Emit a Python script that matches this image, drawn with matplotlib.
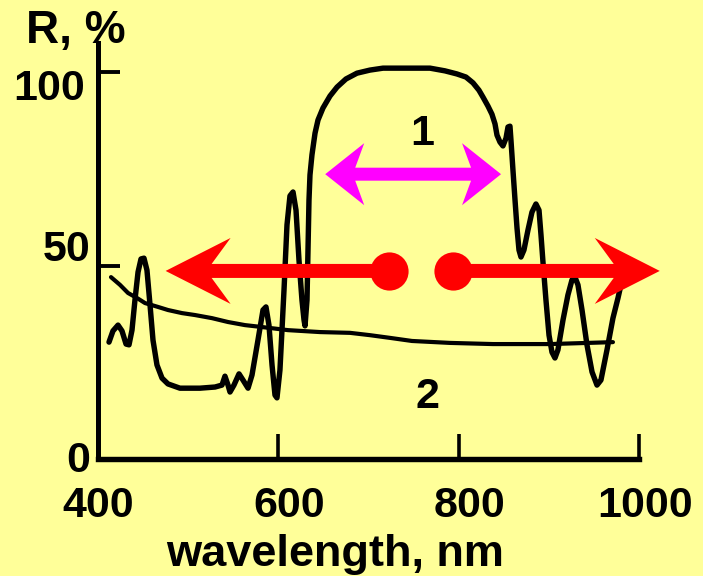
import matplotlib
matplotlib.use("Agg")
import matplotlib.pyplot as plt
from matplotlib.patches import Polygon
from matplotlib.transforms import IdentityTransform

# ---- data -------------------------------------------------------------
# curve 1: reflection spectrum with the broad high-reflectance band
curve1_nm = [412.2, 416.6, 422.2, 426.6, 431.1, 434.4, 437.7, 441.0, 444.4, 447.7,
             451.0, 454.3, 457.7, 461.0, 465.4, 471.0, 477.6, 490.9, 513.1, 529.8,
             537.5, 540.8, 544.2, 546.4, 550.8, 556.4, 560.8, 566.4, 570.8, 577.4,
             583.0, 586.3, 589.6, 593.0, 596.3, 598.5, 601.8, 606.3, 609.6, 612.9,
             616.3, 619.6, 622.9, 626.2, 628.5, 629.6, 631.8, 632.9, 634.0, 635.1,
             637.3, 640.7, 644.0, 649.5, 657.3, 665.1, 675.0, 687.2, 701.6, 716.1,
             734.9, 768.2, 784.8, 798.1, 808.1, 815.9, 822.5, 827.0, 832.5, 836.9,
             840.3, 842.5, 845.8, 849.1, 852.5, 854.7, 856.9, 858.0, 860.2, 862.5,
             864.7, 866.9, 869.1, 872.4, 876.9, 881.3, 885.7, 889.1, 891.3, 893.5,
             896.8, 900.2, 903.5, 906.8, 910.1, 915.7, 921.2, 925.7, 929.0, 932.3,
             936.8, 942.3, 947.9, 953.4, 957.8, 964.5, 971.1, 976.7, 980.0]
curve1_R = [30.2, 33.1, 34.6, 33.1, 29.7, 29.5, 33.3, 41.1, 48.3, 51.7,
            51.9, 48.8, 39.8, 30.7, 24.3, 20.9, 19.4, 18.3, 18.3, 18.6,
            19.1, 21.4, 19.1, 17.3, 19.1, 22.0, 20.4, 18.3, 21.7, 30.7,
            38.5, 39.3, 34.6, 24.3, 16.5, 15.8, 23.0, 43.7, 60.5, 68.0,
            69.0, 64.3, 51.4, 41.1, 35.9, 34.4, 41.1, 54.0, 66.9, 73.4,
            78.6, 84.2, 87.6, 90.7, 93.8, 96.1, 98.2, 99.7, 100.5, 101.0,
            101.0, 101.0, 100.3, 99.5, 98.7, 97.2, 95.3, 93.5, 91.2, 89.1,
            86.6, 83.7, 81.9, 80.9, 82.9, 85.8, 86.0, 82.4, 74.7, 66.9,
            59.7, 54.0, 52.2, 54.0, 59.2, 63.8, 65.9, 64.3, 57.9, 50.9,
            41.1, 32.0, 27.6, 26.1, 28.2, 35.9, 42.4, 46.3, 47.0, 45.0,
            38.5, 29.5, 22.5, 19.1, 20.4, 28.2, 36.4, 41.6, 45.0]

# curve 2: smooth, slowly decreasing reflectance
curve2_nm = [414.4, 424.4, 433.3, 443.3, 452.1, 466.5, 477.6, 493.2, 507.6, 526.4,
             544.2, 563.0, 581.9, 610.7, 646.2, 679.5, 701.6, 723.8, 748.2, 790.4,
             838.1, 901.3, 971.1]
curve2_R = [47.0, 45.0, 42.9, 41.6, 40.3, 39.3, 38.5, 37.7, 37.2, 36.4,
            35.4, 34.6, 34.1, 33.3, 32.8, 32.6, 32.0, 31.3, 30.5, 30.0,
            29.7, 29.7, 30.2]

curve_labels = ["1", "2"]
curve_label_nm = [759.3, 764.9]
curve_label_R = [81.1, 13.2]

# band shift arrows
red_start_nm = [723.0, 794.0]    # dots
red_tip_nm = [475.0, 1023.0]     # arrow tips
red_R = 48.6
magenta_tip_nm = [652.0, 847.0]
magenta_R = 73.6

x_ticks = [400, 600, 800, 1000]
y_ticks = [0, 50, 100]
x_label = "wavelength, nm"
y_label = "R, %"

# ---- styling ----------------------------------------------------------
BG = "#FFFF99"
RED = "#FF0000"
MAGENTA = "#FF00FF"
FONT = "Liberation Sans"

W, H = 703, 576
fig = plt.figure(figsize=(W / 100, H / 100), dpi=100, facecolor=BG)
ax = fig.add_axes([98 / W, 117 / H, (639 - 98) / W, (459 - 43) / H])
ax.set_facecolor(BG)
ax.set_xlim(400, 1000)
ax.set_ylim(0, 107.5)

for side in ("top", "right"):
    ax.spines[side].set_visible(False)
ax.spines["left"].set_linewidth(3.6)
ax.spines["bottom"].set_linewidth(3.9)

ax.set_xticks(x_ticks)
ax.set_yticks(y_ticks)
ax.set_xticklabels([])
ax.set_yticklabels([])
ax.tick_params(axis="x", direction="in", length=18, width=2.6, color="black")
ax.tick_params(axis="y", direction="in", length=16, width=2.8, color="black")

# tick labels, nudged individually (pixels)
x_lab_dx = [0, 11, 11, 6]
for v, dx in zip(x_ticks, x_lab_dx):
    ax.annotate(str(v), xy=(v, 0), xycoords=("data", "axes fraction"),
                xytext=(dx, -58), textcoords="offset pixels",
                ha="center", va="baseline", fontsize=31, fontweight="bold",
                family=FONT, annotation_clip=False)
y_lab_off = [(-8, -13), (-8, 5), (-13, -28)]
for v, (dx, dy) in zip(y_ticks, y_lab_off):
    ax.annotate(str(v), xy=(0, v), xycoords=("axes fraction", "data"),
                xytext=(dx, dy), textcoords="offset pixels",
                ha="right", va="baseline", fontsize=31, fontweight="bold",
                family=FONT, annotation_clip=False)

fig.text(335 / W, 1 - 566 / H, x_label, ha="center", va="baseline",
         fontsize=32.5, fontweight="bold", family=FONT)
fig.text(26 / W, 1 - 43 / H, y_label, ha="left", va="baseline",
         fontsize=33, fontweight="bold", family=FONT)

# spectra
ax.plot(curve1_nm, curve1_R, color="black", lw=3.9, solid_joinstyle="round",
        solid_capstyle="round", zorder=3, clip_on=False)
ax.plot(curve2_nm, curve2_R, color="black", lw=3.0, solid_joinstyle="round",
        solid_capstyle="round", zorder=3, clip_on=False)

for t, x, y in zip(curve_labels, curve_label_nm, curve_label_R):
    ax.text(x, y, t, ha="center", va="baseline", fontsize=31,
            fontweight="bold", family=FONT, zorder=6)


# arrows built in pixel space from data anchors
def to_px(x, y):
    return ax.transData.transform((x, y))


def single_arrow(x0, x1, y, shaft, head_len, head_half, notch):
    d = 1 if x1 > x0 else -1
    bx = x1 - d * head_len
    jx = x1 - d * (head_len - notch)
    s = shaft / 2
    return [(x0, y + s), (jx, y + s), (bx, y + head_half), (x1, y),
            (bx, y - head_half), (jx, y - s), (x0, y - s)]


def double_arrow(xl, xr, y, shaft, head_len, head_half, notch):
    s = shaft / 2
    bl, jl = xl + head_len, xl + head_len - notch
    br, jr = xr - head_len, xr - head_len + notch
    return [(jl, y + s), (jr, y + s), (br, y + head_half), (xr, y),
            (br, y - head_half), (jr, y - s), (jl, y - s), (bl, y - head_half),
            (xl, y), (bl, y + head_half)]


for xs, xt in zip(red_start_nm, red_tip_nm):
    (px0, py), (px1, _) = to_px(xs, red_R), to_px(xt, red_R)
    poly = Polygon(single_arrow(px0, px1, py, 14, 65, 33, 19), closed=True,
                   transform=IdentityTransform(), facecolor=RED,
                   edgecolor="none", zorder=4)
    fig.add_artist(poly)

ax.plot(red_start_nm, [red_R] * len(red_start_nm), "o", ms=27.5, color=RED,
        mec="none", zorder=5, clip_on=False)

(mxl, my), (mxr, _) = to_px(magenta_tip_nm[0], magenta_R), to_px(magenta_tip_nm[1], magenta_R)
fig.add_artist(Polygon(double_arrow(mxl, mxr, my, 13, 39, 31, 9), closed=True,
                       transform=IdentityTransform(), facecolor=MAGENTA,
                       edgecolor="none", zorder=4))

fig.savefig("out.png", dpi=100, facecolor=BG)
